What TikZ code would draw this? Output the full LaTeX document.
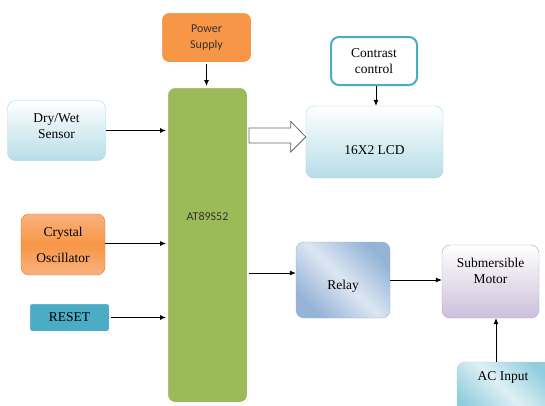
\documentclass[tikz,border=0pt]{standalone}
\usepackage{fontspec}
\setmainfont{Liberation Serif}
\newfontfamily\calibri{Carlito}
\usetikzlibrary{positioning, arrows.meta, shadows, calc}
\definecolor{orangefill}{HTML}{F79646}
\definecolor{orangelight}{HTML}{F9B27E}
\definecolor{orangeline}{HTML}{E0782E}
\definecolor{greenfill}{HTML}{9BBB59}
\definecolor{tealfill}{HTML}{4BACC6}
\definecolor{aqualight}{HTML}{B7DDE8}
\definecolor{aqualine}{HTML}{A5D5E2}
\definecolor{aquadark}{HTML}{8FCCDC}
\definecolor{bluedark}{HTML}{95B3D7}
\definecolor{bluelight}{HTML}{DCE6F2}
\definecolor{violetfill}{HTML}{CCC0DA}
\definecolor{violetline}{HTML}{B2A1C7}
\tikzset{
	block/.style={
		rounded corners=8pt,
		align=center,
		inner sep=2pt,
	},
	serif/.style={font=\fontsize{13.5}{16}\selectfont},
	sans/.style={font=\calibri\fontsize{12}{16}\selectfont, text=black!80},
	framed/.style={
		draw=white,
		line width=2pt,
		drop shadow={shadow xshift=1pt, shadow yshift=-1pt, fill=black!25},
	},
	aquabox/.style={
		block, serif,
		draw=aqualine,
		top color=white,
		bottom color=aqualight,
	},
	wire/.style={
		-{Latex[length=6pt,width=5pt]},
		line width=0.8pt,
	},
}
\begin{document}
\begin{tikzpicture}[x=1pt, y=-1pt]
\useasboundingbox (0,0) rectangle (545,405);

% controller and its inputs
\node[block, framed, fill=greenfill, minimum width=81pt, minimum height=316pt,
	label={[sans, yshift=29pt]center:AT89S52}] (mcu) at (207.5,245) {};
\node[block, framed, sans, fill=orangefill, minimum width=91pt, minimum height=51pt] (power) at (206.5,37.5) {Power\\Supply};
\node[aquabox, minimum width=98pt, minimum height=60pt,
	label={[serif, align=center, yshift=4pt]center:Dry/Wet\\Sensor}] (sensor) at (56.5,130.5) {};
\node[block, serif, draw=orangeline, shading=axis, top color=orangelight, bottom color=orangelight,
	middle color=orangefill, minimum width=84pt, minimum height=61pt] (crystal) at (63,244.5) {Crystal\\[10pt]Oscillator};
\node[block, framed, serif, fill=tealfill, rounded corners=3pt, minimum width=81pt, minimum height=29pt] (reset) at (69.5,317.5) {RESET};

% display side
\node[block, serif, draw=tealfill, line width=2pt, fill=white, minimum width=86pt, minimum height=48pt] (contrast) at (374,61) {Contrast\\control};
\node[aquabox, minimum width=137pt, minimum height=72pt,
	label={[serif, yshift=-8pt]center:16X2 LCD}] (lcd) at (374.5,142) {};

% pump side
\node[block, draw=bluedark, shading=axis, top color=bluedark, bottom color=bluedark, middle color=bluelight,
	shading angle=135, minimum width=94pt, minimum height=76pt,
	label={[serif, yshift=-6pt]center:Relay}] (relay) at (343,280) {};
\node[block, draw=violetline, top color=white, bottom color=violetfill, minimum width=97pt, minimum height=73pt,
	label={[serif, align=center, yshift=11pt]center:Submersible\\Motor}] (motor) at (490.5,281.5) {};
\node[block, draw=aqualine, shading=axis, top color=aquadark, bottom color=aquadark, middle color=aqualight!45,
	shading angle=135, minimum width=100pt, minimum height=60pt,
	label={[serif, xshift=-4pt, yshift=15pt]center:AC Input}] (ac) at (507,392) {};

\draw[wire] (power) -- (power |- mcu.north);
\draw[wire] (sensor.east) -- (sensor.east -| mcu.west);
\draw[wire] ([yshift=1pt]crystal.east) -- ([yshift=1pt]crystal.east -| mcu.west);
\draw[wire] (reset.east) -- (reset.east -| mcu.west);
\draw[wire] ([xshift=2pt]contrast.south) -- ([xshift=2pt]contrast.south |- lcd.north);
\draw[wire] ([yshift=7pt]mcu.east |- relay.west) -- ([yshift=7pt]relay.west);
\draw[wire] (relay.east) -- (relay.east -| motor.west);
\draw[wire] ([xshift=-11pt]ac.north) -- ([xshift=-11pt]ac.north |- motor.south);

% data bus to the display
\coordinate (tip) at ($(lcd.west)+(0,-5)$);
\draw[black!60, line width=0.8pt, fill=white] (tip) -- ++(-15,-15.5) -- ++(0,6.5)
	-- ($(mcu.east |- tip)+(0,-9)$) -- ($(mcu.east |- tip)+(0,6)$)
	-- ($(tip)+(-15,6)$) -- ($(tip)+(-15,15)$) -- cycle;
\end{tikzpicture}
\end{document}
